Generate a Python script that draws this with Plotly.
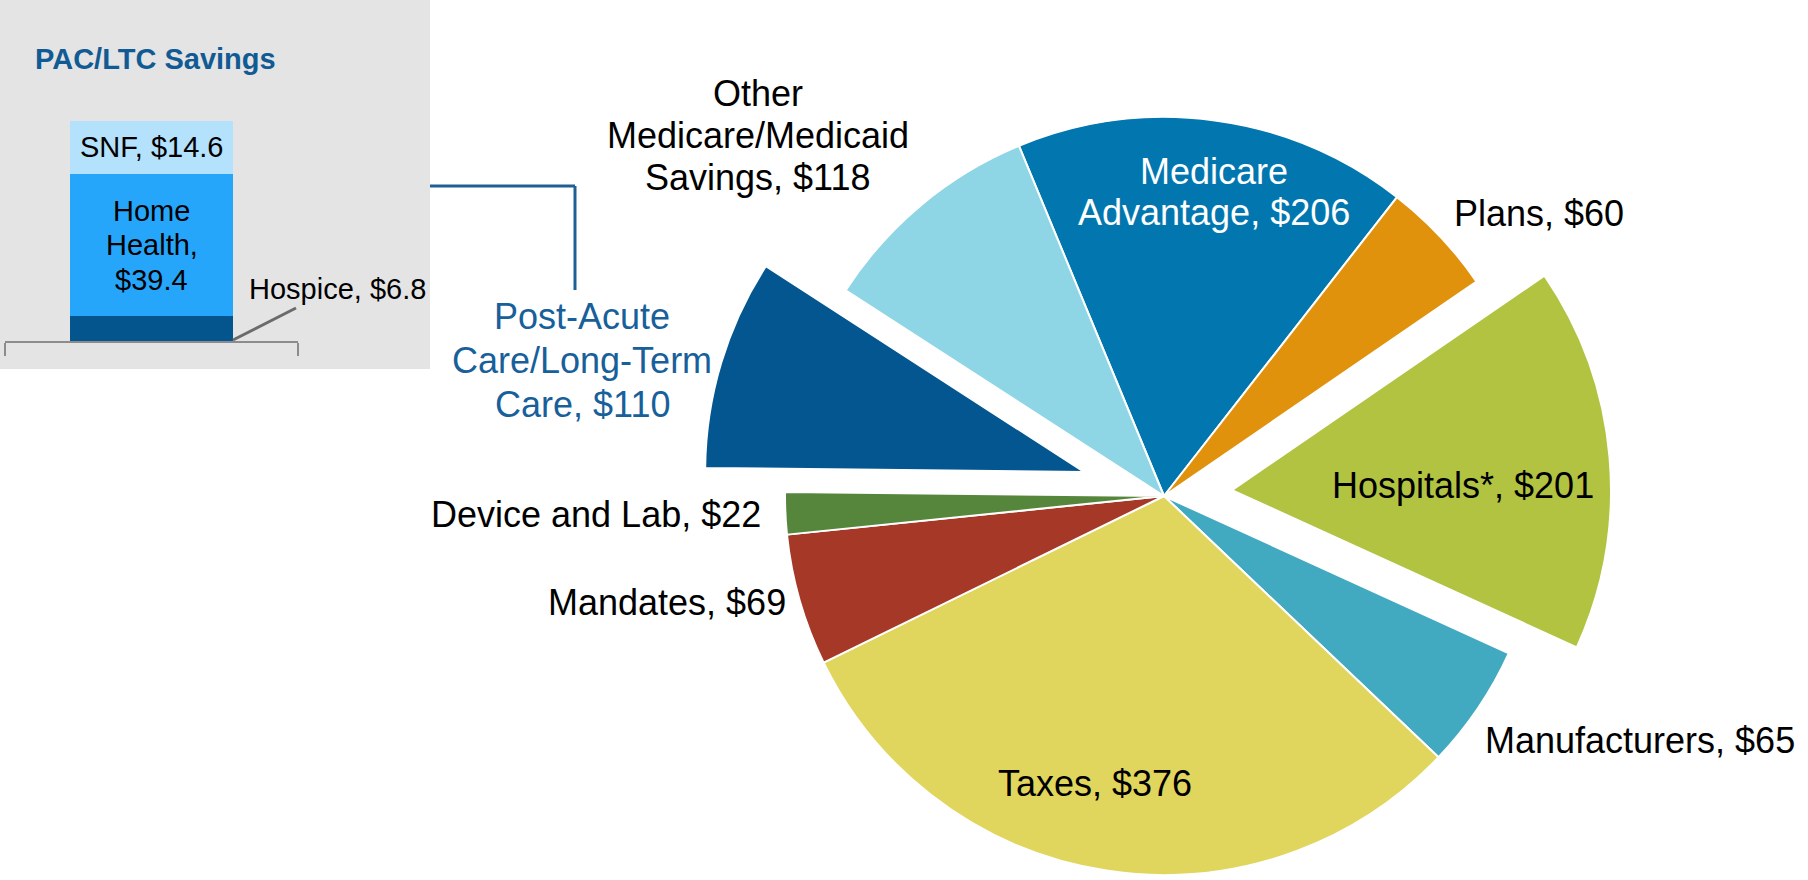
import math
import plotly.graph_objects as go

W, H = 1808, 880
FONT = "Liberation Sans, Arial, Helvetica, sans-serif"

# ---------------- main pie data ----------------
labels = ["Medicare Advantage", "Plans", "Hospitals*", "Manufacturers", "Taxes",
          "Mandates", "Device and Lab", "Post-Acute Care/Long-Term Care",
          "Other Medicare/Medicaid Savings"]
values = [206, 60, 201, 65, 376, 69, 22, 110, 118]
name_lines = [["Medicare", "Advantage"], ["Plans"], ["Hospitals*"], ["Manufacturers"],
              ["Taxes"], ["Mandates"], ["Device and Lab"],
              ["Post-Acute", "Care/Long-Term", "Care"],
              ["Other", "Medicare/Medicaid", "Savings"]]
colors = ["#0277AF", "#E0920C", "#B2C342", "#41A9C0", "#E0D55D",
          "#A63828", "#56863C", "#03568F", "#8ED5E6"]
pulls = [0, 0, 0.18, 0, 0, 0, 0, 0.22, 0]

# label placement (pixel x, pixel y of first line middle, anchor, colour, line gap)
label_pos = [(1214, 171.5, "center", "white", 41),
             (1452, 213, "left", "black", 42),
             (1463, 485, "center", "black", 42),
             (1483, 740, "left", "black", 42),
             (1095, 783, "center", "black", 42),
             (788, 602, "right", "black", 42),
             (763, 514, "right", "black", 42),
             (582, 316, "center", "#17609A", 44),
             (758, 93.5, "center", "black", 42)]

# ---------------- inset (PAC/LTC) data ----------------
pac_title = "PAC/LTC Savings"
pac_category = ["PAC/LTC"]
pac_names = ["Hospice", "Home<br>Health", "SNF"]
pac_values = [6.8, 39.4, 14.6]
pac_fmt = ["{n}, ${v}", "{n},<br>${v}", "{n}, ${v}"]
pac_colors = ["#04558E", "#25A6FB", "#B4E1FB"]

# ---------------- geometry ----------------
CX, CY, R = 1164, 496, 379
ROT = -22.5
n = len(values)
total = float(sum(values))


def px(x):
    return x / W


def py(y):
    return 1 - y / H


def pie_domain(cx, cy, r):
    return dict(x=[(cx - r) / W, (cx + r) / W], y=[1 - (cy + r) / H, 1 - (cy - r) / H])


def pie_trace(show, cx, cy):
    cols = [colors[i] if i in show else "rgba(0,0,0,0)" for i in range(n)]
    lws = [2 if i in show else 0 for i in range(n)]
    return go.Pie(labels=labels, values=values, sort=False, direction="clockwise",
                  rotation=ROT, textinfo="none", showlegend=False,
                  hoverinfo="label+value",
                  marker=dict(colors=cols, line=dict(color="white", width=lws)),
                  domain=pie_domain(cx, cy, R))


fig = go.Figure()

# unpulled slices
fig.add_trace(pie_trace([i for i in range(n) if pulls[i] == 0], CX, CY))

# pulled slices, each drawn from a pie shifted along the slice's mid-angle
for i in range(n):
    if pulls[i] > 0:
        start = ROT + 360 * sum(values[:i]) / total
        mid = math.radians(start + 180 * values[i] / total)
        d = pulls[i] * R
        fig.add_trace(pie_trace([i], CX + d * math.sin(mid), CY - d * math.cos(mid)))

annotations = []

# inset stacked bar
base = 0.0
for name, val, col, fmt in zip(pac_names, pac_values, pac_colors, pac_fmt):
    fig.add_trace(go.Bar(x=pac_category, y=[val], width=0.553,
                         marker=dict(color=col, line=dict(width=0)),
                         showlegend=False, hoverinfo="y", xaxis="x", yaxis="y"))
    if name != "Hospice":
        lines = fmt.format(n=name, v=f"{val:g}").split("<br>")
        gap = 34.5
        for k, line in enumerate(lines):
            annotations.append(dict(text=line, x=pac_category[0], y=base + val / 2,
                                    xref="x", yref="y", yshift=-(k - (len(lines) - 1) / 2) * gap,
                                    xanchor="center", yanchor="middle", showarrow=False,
                                    font=dict(family=FONT, size=29, color="black")))
    base += val

# main labels
for i in range(n):
    x, y0, anchor, col, gap = label_pos[i]
    lines = list(name_lines[i])
    lines[-1] = f"{lines[-1]}, ${values[i]:g}"
    for k, line in enumerate(lines):
        annotations.append(dict(text=line, x=px(x), y=py(y0 + k * gap), xref="paper", yref="paper",
                                xanchor=anchor, yanchor="middle", showarrow=False,
                                font=dict(family=FONT, size=36, color=col)))

# inset title and hospice label
annotations.append(dict(text=f"<b>{pac_title}</b>", x=px(33), y=py(59), xref="paper", yref="paper",
                        xanchor="left", yanchor="middle", showarrow=False,
                        font=dict(family=FONT, size=29, color="#115B94")))
annotations.append(dict(text=pac_fmt[0].format(n=pac_names[0], v=f"{pac_values[0]:g}"),
                        x=px(247), y=py(289), xref="paper", yref="paper",
                        xanchor="left", yanchor="middle", showarrow=False,
                        font=dict(family=FONT, size=29, color="black")))

shapes = [
    dict(type="rect", xref="paper", yref="paper", x0=0, x1=px(430), y0=py(0), y1=py(369),
         fillcolor="#E4E4E4", line=dict(width=0), layer="below"),
    dict(type="line", xref="paper", yref="paper", x0=px(430), x1=px(575), y0=py(186), y1=py(186),
         line=dict(color="#1E5F94", width=3)),
    dict(type="line", xref="paper", yref="paper", x0=px(575), x1=px(575), y0=py(186), y1=py(290),
         line=dict(color="#1E5F94", width=3)),
    dict(type="line", xref="paper", yref="paper", x0=px(233), x1=px(296), y0=py(340), y1=py(308),
         line=dict(color="#6B6B6B", width=3)),
]

fig.update_layout(
    width=W, height=H, margin=dict(l=0, r=0, t=0, b=0, pad=0),
    paper_bgcolor="white", plot_bgcolor="rgba(0,0,0,0)",
    barmode="stack", showlegend=False,
    font=dict(family=FONT),
    xaxis=dict(domain=[px(5), px(298)], type="category", range=[-0.5, 0.5],
               showline=True, linecolor="#8C8C8C", linewidth=2,
               ticks="outside", tickson="boundaries", ticklen=13, tickwidth=2, tickcolor="#8C8C8C",
               showticklabels=False, showgrid=False, zeroline=False, fixedrange=True),
    yaxis=dict(domain=[py(341), py(100)], range=[0, 241 / 3.62], visible=False, fixedrange=True),
    annotations=annotations, shapes=shapes,
)

fig.write_html("out.html", config={"displayModeBar": False},
               post_script="document.body.style.margin='0';document.body.style.overflow='hidden';")
